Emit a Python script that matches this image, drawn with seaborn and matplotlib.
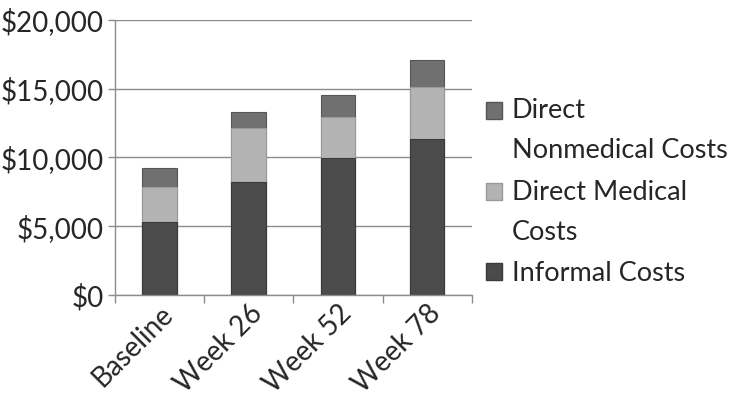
import matplotlib
matplotlib.use("Agg")
import matplotlib.pyplot as plt
import seaborn as sns
import pandas as pd
from matplotlib.patches import Patch, Rectangle
from matplotlib.legend_handler import HandlerPatch
from matplotlib.ticker import FuncFormatter

# Datos
weeks = ["Baseline", "Week 26", "Week 52", "Week 78"]
informal = [5300, 8200, 9940, 11320]
direct_medical = [2580, 3970, 2960, 3780]
direct_nonmedical = [1320, 1160, 1620, 1990]

df = pd.DataFrame({
    "week": weeks,
    "informal": informal,
    "medical": direct_medical,
    "nonmedical": direct_nonmedical,
})
df["lvl2"] = df["informal"] + df["medical"]
df["lvl3"] = df["lvl2"] + df["nonmedical"]

c_nonmed = "#707070"
c_med = "#b3b3b3"
c_inf = "#4b4b4b"

sns.set_style("white")
plt.rcParams["font.family"] = ["Lato", "DejaVu Sans"]

fig = plt.figure(figsize=(7.37, 4.13), dpi=100)
ax = fig.add_axes([0.156, 0.286, 0.484, 0.666])

# barras apiladas: se dibuja el total primero y luego encima las capas inferiores
sns.barplot(data=df, x="week", y="lvl3", color=c_nonmed, width=0.39,
            edgecolor="#555555", linewidth=0.8, ax=ax, saturation=1)
sns.barplot(data=df, x="week", y="lvl2", color=c_med, width=0.39,
            edgecolor="#999999", linewidth=0.8, ax=ax, saturation=1)
sns.barplot(data=df, x="week", y="informal", color=c_inf, width=0.39,
            edgecolor="#3a3a3a", linewidth=0.8, ax=ax, saturation=1)

ax.set_ylim(0, 20000)
ax.set_xlim(-0.5, 3.5)
ax.set_yticks(range(0, 20001, 5000))
ax.yaxis.set_major_formatter(FuncFormatter(lambda v, p: f"${int(v):,}"))
ax.yaxis.grid(True, color="#8c8c8c", linewidth=1.0)
ax.set_axisbelow(True)
ax.set_xlabel("")
ax.set_ylabel("")

for s in ["top", "right"]:
    ax.spines[s].set_visible(False)
for s in ["left", "bottom"]:
    ax.spines[s].set_color("#8c8c8c")
    ax.spines[s].set_linewidth(1.0)

# marcas del eje x entre categorias
ax.set_xticks([-0.5, 0.5, 1.5, 2.5, 3.5], minor=True)
ax.tick_params(axis="x", which="minor", length=6, color="#8c8c8c", width=1, bottom=True)
ax.tick_params(axis="x", which="major", length=0, labelsize=20, pad=4)
ax.tick_params(axis="y", length=5, color="#8c8c8c", width=1, labelsize=20, pad=3, left=True)
plt.setp(ax.get_xticklabels(), rotation=45, ha="right", rotation_mode="anchor")


# el cuadrito de la leyenda va alineado con la primera linea del texto
def top_handler(dy):
    def f(legend, orig_handle, xdescent, ydescent, width, height, fontsize):
        return Rectangle((-xdescent, -ydescent + dy), width, height)
    return HandlerPatch(patch_func=f)


h_nonmed = Patch(facecolor=c_nonmed, edgecolor="#555555", label="Direct\nNonmedical Costs")
h_med = Patch(facecolor=c_med, edgecolor="#999999", label="Direct Medical\nCosts")
h_inf = Patch(facecolor=c_inf, edgecolor="#3a3a3a", label="Informal Costs")
leg = fig.legend(handles=[h_nonmed, h_med, h_inf], loc="center left",
                 bbox_to_anchor=(0.641, 0.535), frameon=False, fontsize=19.5,
                 handlelength=0.6, handleheight=0.6, handletextpad=0.35,
                 labelspacing=0.6, borderpad=0,
                 handler_map={h_nonmed: top_handler(15), h_med: top_handler(15)})
for t in leg.get_texts():
    t.set_linespacing(1.75)

plt.savefig("out.png", dpi=100)
